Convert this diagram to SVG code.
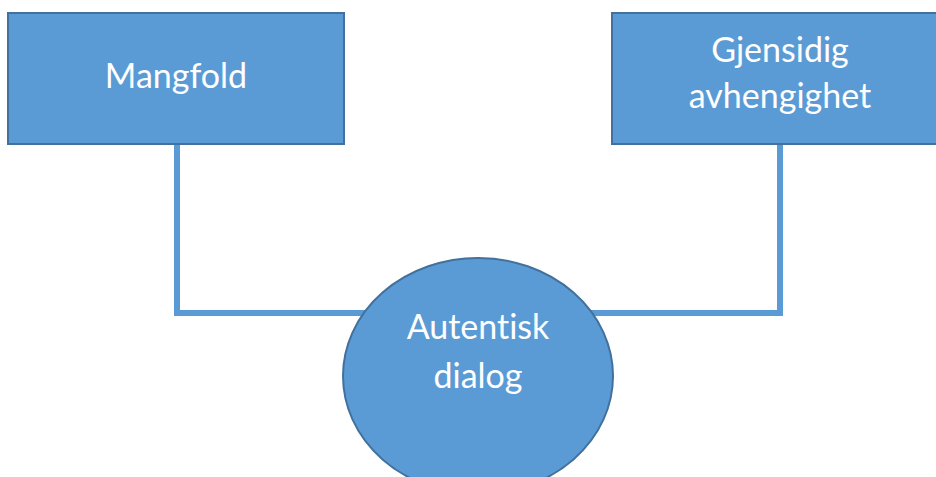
<svg xmlns="http://www.w3.org/2000/svg" width="936" height="477" viewBox="0 0 936 477">
  <style>
    .shape { fill: #5B9BD5; stroke: #41719C; stroke-width: 2; }
    .link { fill: none; stroke: #5B9BD5; stroke-width: 6; }
    .label { font-family: Lato, "Open Sans", "Liberation Sans", sans-serif; font-size: 34px; fill: #FFFFFF; text-anchor: middle; font-variant-ligatures: none; }
  </style>
  <rect width="936" height="477" fill="#FFFFFF"/>
  <g id="connectors">
    <polyline class="link" points="177,144 177,313 370,313"/>
    <polyline class="link" points="780,144 780,313 590,313"/>
  </g>
  <g id="node-mangfold">
    <rect class="shape" x="8" y="13" width="336" height="131"/>
    <text class="label" x="176" y="88">Mangfold</text>
  </g>
  <g id="node-gjensidig">
    <rect class="shape" x="612" y="13" width="336" height="131"/>
    <text class="label" x="780" y="62">Gjensidig</text>
    <text class="label" x="780" y="108">avhengighet</text>
  </g>
  <g id="node-dialog">
    <ellipse class="shape" cx="478" cy="376" rx="135" ry="118"/>
    <text class="label" x="478" y="339">Autentisk</text>
    <text class="label" x="478" y="388">dialog</text>
  </g>
</svg>
